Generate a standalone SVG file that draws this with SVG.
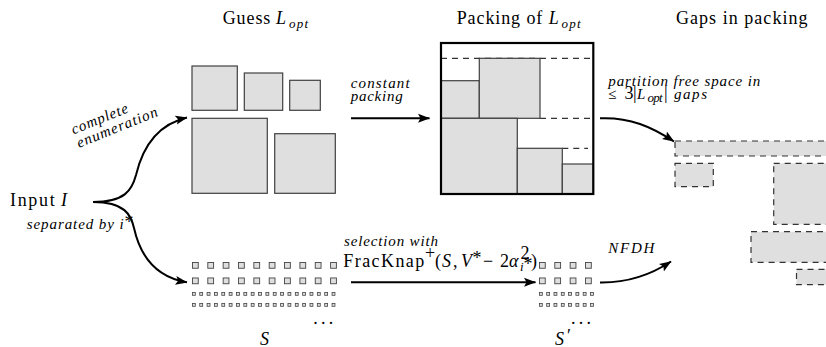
<svg xmlns="http://www.w3.org/2000/svg" width="826" height="347" viewBox="0 0 826 347">
<defs>
<style>
text{font-family:"Liberation Serif","DejaVu Serif",serif}
.rm{font-size:18px;fill:#000}
.it{font-size:18px;font-style:italic;fill:#000}
.sm{font-size:15px;font-style:italic;fill:#000}
.sub{font-size:13px;font-style:italic;fill:#000}
.box{fill:#dfdfdf;stroke:#404040;stroke-width:1.2}
.gap{fill:#dfdfdf;stroke:#333;stroke-width:1.2;stroke-dasharray:6 5}
.dash{fill:none;stroke:#333;stroke-width:1.2;stroke-dasharray:6 5}
.big{fill:#dfdfdf;stroke:#444;stroke-width:0.9}
.small{fill:#dfdfdf;stroke:#444;stroke-width:0.8}
.arr{fill:none;stroke:#000;stroke-width:2;marker-end:url(#ah)}
</style>
<marker id="ah" viewBox="0 0 12 10" refX="11.5" refY="5" markerWidth="12" markerHeight="10" orient="auto" markerUnits="userSpaceOnUse">
<path d="M0,0.5 L12,5 L0,9.5 L2.5,5 Z" fill="#000"/>
</marker>
<rect id="sq" width="5.8" height="5.8" class="big"/>
<rect id="ss" width="2.9" height="2.9" class="small"/>
</defs>

<g id="titles">
<text class="rm" x="222.7" y="24" textLength="47.6">Guess</text>
<text class="it" x="276" y="24">L</text>
<text class="sub" x="289" y="28" textLength="19">opt</text>
<text class="rm" x="456.7" y="24" textLength="85.6">Packing of</text>
<text class="it" x="548.7" y="24">L</text>
<text class="sub" x="561.5" y="28" textLength="19">opt</text>
<text class="rm" x="676" y="24" textLength="131.5">Gaps in packing</text>
</g>

<g id="input">
<text class="rm" x="10" y="206" textLength="44.7">Input</text>
<text class="it" x="61" y="206">I</text>
</g>

<g id="guess">
<rect class="box" x="192" y="66" width="45.3" height="44.3"/>
<rect class="box" x="244.3" y="73" width="38.4" height="37.3"/>
<rect class="box" x="289.7" y="80.3" width="30.6" height="30"/>
<rect class="box" x="192" y="118.3" width="75.3" height="75"/>
<rect class="box" x="274.7" y="133.7" width="60.6" height="59.6"/>
</g>

<g id="packing">
<rect x="441" y="43" width="152.3" height="151" fill="#fff"/>
<line class="dash" x1="441" y1="58.3" x2="593" y2="58.3"/>
<line class="dash" x1="540" y1="118.3" x2="593" y2="118.3"/>
<line class="dash" x1="562.3" y1="148.3" x2="588" y2="148.3"/>
<rect class="box" x="441" y="80.7" width="38.3" height="37.6"/>
<rect class="box" x="479.3" y="58.3" width="60.7" height="60"/>
<rect class="box" x="441" y="118.3" width="76.3" height="75.7"/>
<rect class="box" x="517.3" y="148.3" width="45" height="45.7"/>
<rect class="box" x="562.3" y="164" width="31" height="30"/>
<rect x="441" y="43" width="152.3" height="151" fill="none" stroke="#000" stroke-width="2.2"/>
</g>

<g id="gaps">
<rect class="gap" x="675" y="141" width="170" height="15"/>
<rect class="gap" x="675" y="163.3" width="38.3" height="23.4"/>
<rect class="gap" x="773.7" y="163.3" width="70" height="61"/>
<rect class="gap" x="751" y="231.7" width="90" height="30.6"/>
<rect class="gap" x="796.5" y="269.3" width="50" height="15.4"/>
</g>

<g id="S">
<use href="#sq" x="192.45" y="262.45"/><use href="#sq" x="207.8" y="262.45"/><use href="#sq" x="223.15" y="262.45"/><use href="#sq" x="238.5" y="262.45"/><use href="#sq" x="253.85" y="262.45"/><use href="#sq" x="269.2" y="262.45"/><use href="#sq" x="284.55" y="262.45"/><use href="#sq" x="299.9" y="262.45"/><use href="#sq" x="315.25" y="262.45"/><use href="#sq" x="330.6" y="262.45"/>
<use href="#sq" x="192.45" y="277.95"/><use href="#sq" x="207.8" y="277.95"/><use href="#sq" x="223.15" y="277.95"/><use href="#sq" x="238.5" y="277.95"/><use href="#sq" x="253.85" y="277.95"/><use href="#sq" x="269.2" y="277.95"/><use href="#sq" x="284.55" y="277.95"/><use href="#sq" x="299.9" y="277.95"/><use href="#sq" x="315.25" y="277.95"/><use href="#sq" x="330.6" y="277.95"/>
<g id="srow">
<use href="#ss" x="192.4" y="292.4"/><use href="#ss" x="199.75" y="292.4"/><use href="#ss" x="207.1" y="292.4"/><use href="#ss" x="214.45" y="292.4"/><use href="#ss" x="221.8" y="292.4"/><use href="#ss" x="229.15" y="292.4"/><use href="#ss" x="236.5" y="292.4"/><use href="#ss" x="243.85" y="292.4"/><use href="#ss" x="251.2" y="292.4"/><use href="#ss" x="258.55" y="292.4"/><use href="#ss" x="265.9" y="292.4"/><use href="#ss" x="273.25" y="292.4"/><use href="#ss" x="280.6" y="292.4"/><use href="#ss" x="287.95" y="292.4"/><use href="#ss" x="295.3" y="292.4"/><use href="#ss" x="302.65" y="292.4"/><use href="#ss" x="310" y="292.4"/><use href="#ss" x="317.35" y="292.4"/><use href="#ss" x="324.7" y="292.4"/><use href="#ss" x="332.05" y="292.4"/>
</g>
<use href="#srow" x="0" y="11"/>
<text class="rm" x="313.3" y="324" textLength="20">...</text>
<text class="it" x="260" y="344.5">S</text>
</g>

<g id="S-prime">
<use href="#sq" x="539.45" y="262.45"/><use href="#sq" x="554.8" y="262.45"/><use href="#sq" x="570.15" y="262.45"/><use href="#sq" x="585.5" y="262.45"/>
<use href="#sq" x="539.45" y="277.95"/><use href="#sq" x="554.8" y="277.95"/><use href="#sq" x="570.15" y="277.95"/><use href="#sq" x="585.5" y="277.95"/>
<g id="sprow">
<use href="#ss" x="539.4" y="292.4"/><use href="#ss" x="546.7" y="292.4"/><use href="#ss" x="554" y="292.4"/><use href="#ss" x="561.3" y="292.4"/><use href="#ss" x="568.6" y="292.4"/><use href="#ss" x="575.9" y="292.4"/><use href="#ss" x="583.2" y="292.4"/><use href="#ss" x="590.5" y="292.4"/>
</g>
<use href="#sprow" x="0" y="11"/>
<text class="rm" x="571" y="324" textLength="20">...</text>
<text class="it" x="555" y="344.5">S</text>
<text class="rm" x="567" y="342" font-size="13">′</text>
</g>

<g id="connectors">
<path class="arr" d="M93,202 C125,202 132,190 136,175 C142,150 155,125 187,117.5"/>
<path class="arr" d="M93,202 C125,202 131,215 134,228 C140,255 155,277 187,282.3"/>
<path class="arr" d="M351,118.3 L429.5,118.3"/>
<path class="arr" d="M600,118.3 C630,117 652,127 674,141.5"/>
<path class="arr" d="M351,282.3 L535.5,282.3"/>
<path class="arr" d="M600,282.5 C630,283 652,274 671,261.5"/>
</g>

<g id="labels">
<g transform="translate(73.5,134.5) rotate(-22)">
<text class="sm" x="0" y="0" textLength="60">complete</text>
<text class="sm" x="0" y="14.5" textLength="86">enumeration</text>
</g>
<text class="sm" x="26.7" y="228.5" textLength="97">separated by i</text>
<text class="rm" x="124.5" y="228" font-size="12">*</text>
<text class="sm" x="350.7" y="87.5" textLength="59">constant</text>
<text class="sm" x="350.7" y="100.5" textLength="52">packing</text>
<text class="sm" x="608.3" y="85.5" textLength="152">partition free space in</text>
<text x="608" y="98.5" class="sm" font-style="normal">≤</text>
<text class="rm" x="624.5" y="98.5" font-size="16">3</text>
<text class="rm" x="633" y="98.5" font-size="16">|</text>
<text class="sm" x="637" y="98.5">L</text>
<text class="sub" x="647.5" y="102" font-size="11" textLength="15">opt</text>
<text class="rm" x="664" y="98.5" font-size="16">|</text>
<text class="sm" x="674" y="98.5" textLength="33">gaps</text>
<text class="sm" x="608.3" y="253" textLength="46">NFDH</text>
<text class="sm" x="344" y="246" textLength="94">selection with</text>
<text class="rm" x="343.3" y="266.5" textLength="81">FracKnap</text>
<text class="rm" x="425" y="259" font-size="13">+</text>
<text class="rm" x="435" y="266.5">(</text>
<text class="it" x="442" y="266.5">S</text>
<text class="rm" x="453" y="266.5">,</text>
<text class="it" x="461" y="266.5">V</text>
<text class="rm" x="472.5" y="264" font-size="13">*</text>
<text class="rm" x="483" y="266.5">−</text>
<text class="rm" x="500" y="266.5">2</text>
<text class="it" x="509" y="266.5">α</text>
<text class="rm" x="520.5" y="259" font-size="11">2</text>
<text class="sub" x="520" y="271" font-size="10">i</text>
<text class="rm" x="523.5" y="270" font-size="8">*</text>
<text class="rm" x="531" y="266.5">)</text>
</g>
</svg>
